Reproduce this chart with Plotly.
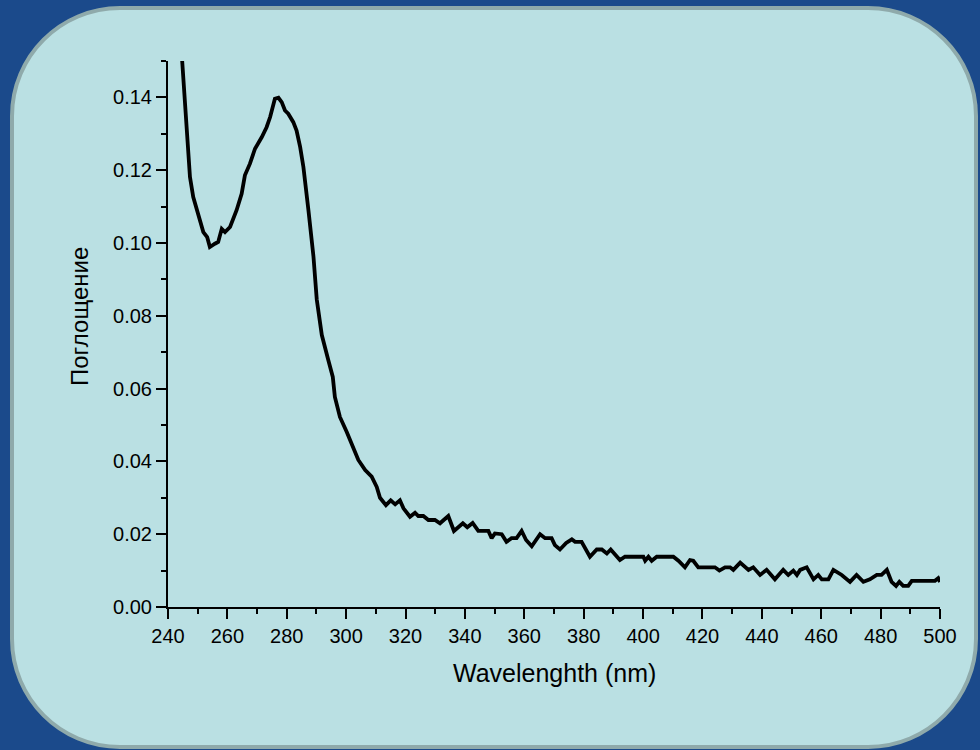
import plotly.graph_objects as go

# ---- data ----
wavelength = [244.2, 244.8, 247.4, 248.5, 250.2, 251.9, 253.2, 254.1, 255.8, 256.9,
              258.1, 259.2, 260.9, 263.1, 264.8, 265.9, 267.6, 269.3, 271.6, 273.2,
              274.4, 276.0, 277.2, 278.3, 279.4, 280.5, 282.2, 283.3, 284.5, 285.6,
              287.3, 289.0, 290.1, 291.8, 294.0, 295.5, 296.2, 297.9, 300.2, 301.9,
              304.1, 306.4, 308.6, 310.3, 311.4, 313.4, 315.0, 316.5, 318.1, 319.3,
              321.5, 323.2, 324.3, 326.0, 327.7, 329.9, 331.6, 334.4, 336.3, 339.3,
              340.8, 342.6, 344.5, 347.9, 349.0, 350.1, 352.4, 354.0, 355.7, 357.4,
              359.1, 360.6, 362.5, 365.3, 367.0, 369.2, 370.3, 372.0, 374.1, 376.0,
              377.1, 379.3, 382.1, 384.4, 386.1, 387.8, 389.1, 392.2, 393.9, 400.1,
              400.7, 401.8, 402.9, 404.6, 410.2, 411.9, 414.1, 415.8, 416.9, 418.6,
              424.2, 425.7, 427.6, 429.3, 430.4, 432.7, 434.3, 435.5, 437.1, 439.4,
              441.6, 444.4, 447.2, 448.9, 450.6, 451.8, 452.9, 455.1, 457.4, 459.0,
              460.2, 462.4, 464.1, 466.9, 469.7, 471.9, 474.2, 476.4, 478.7, 480.3,
              482.1, 483.7, 485.2, 486.3, 487.6, 489.3, 490.5, 498.3, 499.4, 500.0]
absorbance = [0.157, 0.1497, 0.1181, 0.1126, 0.1081, 0.1030, 0.1016, 0.0989, 0.0998, 0.1003,
              0.1039, 0.1030, 0.1044, 0.1090, 0.1135, 0.1186, 0.1218, 0.1259, 0.1291, 0.1318,
              0.1346, 0.1396, 0.1399, 0.1387, 0.1364, 0.1355, 0.1332, 0.1309, 0.1264, 0.1209,
              0.1090, 0.0962, 0.0845, 0.0747, 0.0678, 0.0632, 0.0577, 0.0522, 0.0481, 0.0445,
              0.0404, 0.0376, 0.0358, 0.0330, 0.0300, 0.0280, 0.0293, 0.0282, 0.0293, 0.0271,
              0.0248, 0.0259, 0.0250, 0.0250, 0.0239, 0.0239, 0.0230, 0.0250, 0.0209, 0.0230,
              0.0219, 0.0231, 0.0209, 0.0209, 0.0189, 0.0202, 0.0200, 0.0179, 0.0189, 0.0189,
              0.0209, 0.0184, 0.0167, 0.0200, 0.0189, 0.0189, 0.0170, 0.0158, 0.0176, 0.0186,
              0.0179, 0.0179, 0.0138, 0.0158, 0.0158, 0.0147, 0.0158, 0.0129, 0.0138, 0.0138,
              0.0127, 0.0138, 0.0127, 0.0138, 0.0138, 0.0127, 0.0109, 0.0129, 0.0127, 0.0109,
              0.0109, 0.0100, 0.0109, 0.0109, 0.0102, 0.0122, 0.0109, 0.0102, 0.0109, 0.0088,
              0.0102, 0.0076, 0.0102, 0.0088, 0.0100, 0.0088, 0.0102, 0.0109, 0.0076, 0.0088,
              0.0076, 0.0076, 0.0102, 0.0088, 0.0069, 0.0088, 0.0069, 0.0076, 0.0088, 0.0088,
              0.0102, 0.0069, 0.0058, 0.0069, 0.0058, 0.0058, 0.0072, 0.0072, 0.0079, 0.0069]

x_title = "Wavelenghth (nm)"
y_title = "Поглощение"

# ---- layout geometry ----
W, H = 980, 750
ML, MR, MT, MB = 168, 40, 61, 143
PW, PH = W - ML - MR, H - MT - MB


def xp(px):
    return (px - ML) / PW


def yp(py):
    return (H - MB - py) / PH


def rounded_rect(x0, y0, x1, y1, r):
    k = 0.5523 * r
    pts = [
        ("M", [(x0 + r, y0)]),
        ("L", [(x1 - r, y0)]),
        ("C", [(x1 - r + k, y0), (x1, y0 + r - k), (x1, y0 + r)]),
        ("L", [(x1, y1 - r)]),
        ("C", [(x1, y1 - r + k), (x1 - r + k, y1), (x1 - r, y1)]),
        ("L", [(x0 + r, y1)]),
        ("C", [(x0 + r - k, y1), (x0, y1 - r + k), (x0, y1 - r)]),
        ("L", [(x0, y0 + r)]),
        ("C", [(x0, y0 + r - k), (x0 + r - k, y0), (x0 + r, y0)]),
    ]
    s = ""
    for cmd, cs in pts:
        s += cmd + " " + " ".join(f"{xp(a):.5f},{yp(b):.5f}" for a, b in cs) + " "
    return s + "Z"


fig = go.Figure()
fig.add_trace(go.Scatter(
    x=wavelength, y=absorbance, mode="lines",
    line=dict(color="black", width=3.8),
    showlegend=False, hoverinfo="skip",
))

font_family = "Liberation Sans, Arial, sans-serif"

fig.update_layout(
    width=W, height=H,
    margin=dict(l=ML, r=MR, t=MT, b=MB, pad=0),
    paper_bgcolor="#1b4a8b",
    plot_bgcolor="rgba(0,0,0,0)",
    font=dict(family=font_family, color="black"),
    shapes=[
        dict(type="path", xref="paper", yref="paper", layer="below",
             path=rounded_rect(12, 8, 976, 747, 108),
             fillcolor="#bae0e3", line=dict(color="#8faaab", width=4)),
    ],
    annotations=[
        dict(xref="paper", yref="paper", x=xp(79), y=yp(317), text=y_title,
             textangle=-90, showarrow=False, font=dict(size=24, family=font_family, color="black"),
             xanchor="center", yanchor="middle"),
        dict(xref="paper", yref="paper", x=xp(554), y=yp(673), text=x_title,
             showarrow=False, font=dict(size=25, family=font_family, color="black"),
             xanchor="center", yanchor="middle"),
    ],
)

fig.update_xaxes(
    range=[240, 500], tickmode="linear", tick0=240, dtick=20,
    showgrid=False, zeroline=False,
    showline=True, linecolor="black", linewidth=2,
    ticks="outside", ticklen=10, tickwidth=2, tickcolor="black",
    tickfont=dict(size=20, family=font_family, color="black"),
    minor=dict(ticks="outside", dtick=10, tick0=240, ticklen=5, tickwidth=2, tickcolor="black", showgrid=False),
)
fig.update_yaxes(
    range=[0, 0.15], tickmode="linear", tick0=0, dtick=0.02, tickformat=".2f",
    showgrid=False, zeroline=False,
    showline=True, linecolor="black", linewidth=2,
    ticks="outside", ticklen=10, tickwidth=2, tickcolor="black",
    tickfont=dict(size=20, family=font_family, color="black"),
    minor=dict(ticks="outside", dtick=0.01, tick0=0, ticklen=5, tickwidth=2, tickcolor="black", showgrid=False),
)

fig.write_html(
    "out.html",
    config={"displayModeBar": False},
    post_script="document.body.style.margin='0';document.body.style.background='#1b4a8b';",
)
